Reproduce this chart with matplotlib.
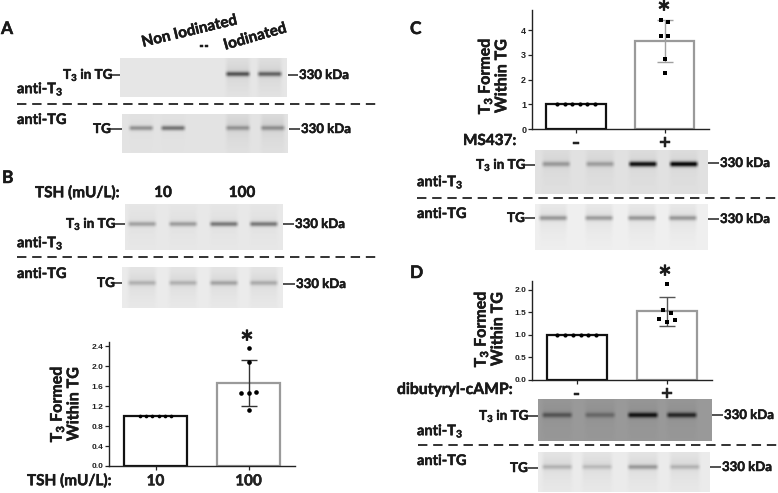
import numpy as np
import matplotlib
matplotlib.use("Agg")
import matplotlib.pyplot as plt
import matplotlib.patheffects as pe

plt.rcParams['font.family'] = ['Lato', 'DejaVu Sans']
plt.rcParams['font.weight'] = 'bold'
plt.rcParams['mathtext.fontset'] = 'custom'
plt.rcParams['mathtext.rm'] = 'Lato:bold'
plt.rcParams['mathtext.default'] = 'rm'

W, H = 778, 493
T3 = 'T$_3$'
THICK = [pe.withStroke(linewidth=0.35, foreground='#1a1a1a')]

# ---- bar chart data ----
b_means = [1.0, 1.67]
b_err = [1.20, 2.13]
b_pts = [2.37, 2.08, 1.46, 1.46, 1.48, 1.13]
b_ticks = [0.0, 0.4, 0.8, 1.2, 1.6, 2.0, 2.4]
b_labels = ['10', '100']

c_means = [1.0, 3.58]
c_err = [2.72, 4.42]
c_pts = [4.42, 4.35, 3.78, 3.78, 2.83, 2.28]
c_ticks = [0, 1, 2, 3, 4]
c_labels = ['-', '+']

d_means = [1.0, 1.52]
d_err = [1.20, 1.84]
d_pts = [2.13, 1.55, 1.48, 1.35, 1.32, 1.28]
d_ticks = [0.0, 0.5, 1.0, 1.5, 2.0]
d_labels = ['-', '+']
ctrl_pts = [1, 1, 1, 1, 1, 1]

# ---- swarm offsets, in category units ----
b_off = [0.0, 0.0, -0.085, 0.0, 0.085, 0.0]
c_off = [-0.04, 0.04, -0.04, 0.04, 0.0, 0.0]
d_off = [0.0, -0.04, 0.04, -0.085, 0.085, 0.0]

# ---- blot band strengths (darkness per lane) ----
a1_bands = [0.50, 0.44]
a2_bands = [0.30, 0.42, 0.24, 0.26]
a2_smears = [0.02, 0.02, 0.09, 0.09]
a1_smears = [0.09, 0.09]
b1_bands = [0.24, 0.26, 0.40, 0.40]
b2_bands = [0.16, 0.16, 0.21, 0.18]
c1_bands = [0.24, 0.22, 0.78, 0.82]
c2_bands = [0.28, 0.26, 0.28, 0.28]
d1_bands = [0.24, 0.16, 0.50, 0.42]
d2_bands = [0.15, 0.12, 0.25, 0.15]

fig = plt.figure(figsize=(W / 100, H / 100), dpi=100, facecolor='white')
ov = fig.add_axes([0, 0, 1, 1], zorder=0)
ov.set_xlim(0, W)
ov.set_ylim(H, 0)
ov.axis('off')


def blot(x0, x1, y0, y1, band_y, lanes, widths, bands, bg=0.93, smear=0.05, sig=2.4):
    ny, nx = int((y1 - y0) * 2), int((x1 - x0) * 2)
    yy, xx = np.meshgrid(np.linspace(y0, y1, ny), np.linspace(x0, x1, nx), indexing='ij')
    dark = np.zeros_like(xx)
    smears = smear if np.iterable(smear) else [smear] * len(lanes)
    for cx, s, sm in zip(lanes, bands, smears):
        prof = np.clip((widths + 1.5 - np.abs(xx - cx)) / 4.0, 0, 1)
        b = np.exp(-((yy - band_y) / sig) ** 2) * s
        up = np.exp(-np.clip(band_y - yy, 0, None) / 14.0) * (yy < band_y) * sm
        down = np.exp(-np.clip(yy - band_y, 0, None) / 16.0) * (yy >= band_y) * sm * 0.7
        dark += prof * (b + up + down)
    img = np.clip(bg - dark, 0, 1)
    ov.imshow(img, extent=(x0, x1, y1, y0), cmap='gray', vmin=0, vmax=1,
              aspect='auto', interpolation='bilinear', zorder=1)


def txt(x, y, s, size=10.5, **kw):
    kw.setdefault('ha', 'left')
    kw.setdefault('va', 'center')
    ov.text(x, y, s, fontsize=size, color='#1a1a1a', fontweight='bold', zorder=5,
            path_effects=THICK, **kw)


def tick(x0, x1, y):
    ov.plot([x0, x1], [y, y], color='#222222', lw=1.1, zorder=4, solid_capstyle='butt')


def dash(x0, x1, y):
    ov.plot([x0, x1], [y, y], color='#222222', lw=1.3, ls=(0, (5.2, 3.2)), zorder=4)


def barax(px0, px1, ptop, pbot, ymax, means, err, pts, off, ticks, fmt, marker, labels,
          tsize, ebcolor, ctrl_step, ctrl_s):
    ax = fig.add_axes([px0 / W, 1 - pbot / H, (px1 - px0) / W, (pbot - ptop) / H], zorder=3)
    ax.patch.set_alpha(0)
    ax.set_xlim(-0.5, 1.5)
    ax.set_ylim(0, ymax)
    colors = ['#111111', '#9a9a9a']
    ax.bar([0, 1], means, width=0.67, facecolor='white', edgecolor=colors, linewidth=1.6, zorder=2)
    ax.errorbar([1], [means[1]], yerr=[[means[1] - err[0]], [err[1] - means[1]]], color=ebcolor,
                lw=1.0, capsize=5.5, capthick=1.0, zorder=3)
    ctrl_off = (np.arange(len(ctrl_pts)) - 2.5) * ctrl_step
    ax.scatter(ctrl_off, ctrl_pts, marker='o', s=ctrl_s, color='black', zorder=4, linewidths=0)
    ax.scatter(1 + np.array(off), pts, marker=marker, s=11, color='black', zorder=4, linewidths=0)
    for sp in ('top', 'right'):
        ax.spines[sp].set_visible(False)
    for sp in ('left', 'bottom'):
        ax.spines[sp].set_linewidth(1.0)
        ax.spines[sp].set_color('#222222')
    ax.set_yticks(ticks)
    ax.set_yticklabels([fmt % t for t in ticks], fontsize=tsize, family='Liberation Sans', fontweight='bold')
    ax.set_xticks([0, 1])
    big = labels[0] == '-'
    ax.set_xticklabels(labels, fontsize=15 if big else 11, fontweight='bold', path_effects=THICK)
    ax.tick_params(axis='y', length=3, width=0.9, pad=1, colors='#222222')
    ax.tick_params(axis='x', length=3, width=0.9, pad=0 if big else 3, colors='#222222')
    return ax


# ---- Panel A ----
txt(1, 29, 'A', 12.5)
txt(142, 43, 'Non Iodinated', 11, rotation=13.5, rotation_mode='anchor')
txt(199, 46, '--', 9.5)
txt(224, 46, 'Iodinated', 11, rotation=16, rotation_mode='anchor')
blot(120, 287, 58, 97, 74, [238, 270], 12, a1_bands, bg=0.90, smear=a1_smears)
blot(122, 288, 114, 153, 128, [141, 173, 238, 273], 12, a2_bands, bg=0.89, smear=a2_smears)
txt(63, 75, T3 + ' in TG', 9.7)
tick(111, 120, 75)
tick(288, 298, 75)
txt(299, 75, '330 kDa', 9.5)
txt(17, 89, 'anti-' + T3, 10.5)
dash(17, 377, 104)
txt(17, 120, 'anti-TG', 10.5)
txt(93, 129, 'TG', 9.7)
tick(110, 122, 129)
tick(289, 300, 129)
txt(301, 129, '330 kDa', 9.5)

# ---- Panel B ----
txt(2, 178, 'B', 12.5)
txt(35, 193, 'TSH (mU/L):', 11)
txt(163, 193, '10', 11, ha='center')
txt(242, 193, '100', 11, ha='center')
lanes_b = [142, 183, 224, 264]
blot(125, 283, 204, 250, 224, lanes_b, 14, b1_bands, bg=0.91, smear=0.04)
blot(122, 283, 267, 308, 283, lanes_b, 14, b2_bands, bg=0.92, smear=0.08)
txt(66, 224, T3 + ' in TG', 9.7)
tick(114, 125, 224)
tick(283, 294, 224)
txt(295, 224, '330 kDa', 9.5)
txt(17, 243, 'anti-' + T3, 10.5)
dash(17, 377, 257)
txt(17, 274, 'anti-TG', 10.5)
txt(97, 283, 'TG', 9.7)
tick(113, 122, 283)
tick(283, 295, 284)
txt(296, 284, '330 kDa', 9.5)

barax(109, 295, 342, 466, 2.49, b_means, b_err, b_pts, b_off, b_ticks, '%.1f', 'o', b_labels, 6, '#333333', 0.065, 7)
txt(247, 354, '*', 23, ha='center', va='baseline')
txt(65, 404, T3 + ' Formed\nWithin TG', 11.5, rotation=90, ha='center', multialignment='center', linespacing=1.1)
txt(27, 481, 'TSH (mU/L):', 11)

# ---- Panel C ----
txt(410, 29, 'C', 12.5)
barax(531.7, 709, 10, 129, 4.82, c_means, c_err, c_pts, c_off, c_ticks, '%d', 's', c_labels, 6.5, '#a0a0a0', 0.086, 9)
txt(664, 24, '*', 23, ha='center', va='baseline')
txt(493, 76, T3 + ' Formed\nWithin TG', 11.5, rotation=90, ha='center', multialignment='center', linespacing=1.1)
txt(463, 141, 'MS437:', 11)
blot(535, 708, 150, 194, 164, [556, 600, 643, 684], 14, c1_bands, bg=0.88, smear=0.05, sig=2.6)
blot(535, 708, 204, 250, 218, [553, 599, 642, 683], 14, c2_bands, bg=0.94, smear=0.08)
txt(476, 165, T3 + ' in TG', 9.7)
tick(525, 535, 165)
tick(708, 719, 163)
txt(720, 163, '330 kDa', 9.5)
txt(417, 182, 'anti-' + T3, 10.5)
dash(417, 777, 198)
txt(417, 214, 'anti-TG', 10.5)
txt(507, 218, 'TG', 9.7)
tick(525, 535, 218)
tick(708, 719, 219)
txt(720, 219, '330 kDa', 9.5)

# ---- Panel D ----
txt(410, 273, 'D', 12.5)
barax(531.7, 712, 281, 380, 2.19, d_means, d_err, d_pts, d_off, d_ticks, '%.1f', 's', d_labels, 6, '#555555', 0.086, 9)
txt(665, 289, '*', 23, ha='center', va='baseline')
txt(489, 329, T3 + ' Formed\nWithin TG', 11.5, rotation=90, ha='center', multialignment='center', linespacing=1.1)
txt(397, 390, 'dibutyryl-cAMP:', 11.3)
blot(538, 712, 399, 441, 415, [557, 600, 643, 682], 15, d1_bands, bg=0.60, smear=0.04, sig=2.6)
blot(538, 710, 452, 492, 467, [557, 597, 643, 685], 15, d2_bands, bg=0.92, smear=0.08)
txt(479, 416, T3 + ' in TG', 9.7)
tick(528, 538, 416)
tick(712, 723, 415)
txt(724, 415, '330 kDa', 9.5)
txt(417, 431, 'anti-' + T3, 10.5)
dash(418, 778, 445)
txt(417, 461, 'anti-TG', 10.5)
txt(510, 468, 'TG', 9.7)
tick(528, 538, 468)
tick(710, 721, 467)
txt(722, 467, '330 kDa', 9.5)

fig.savefig('out.png', dpi=100, facecolor='white')
